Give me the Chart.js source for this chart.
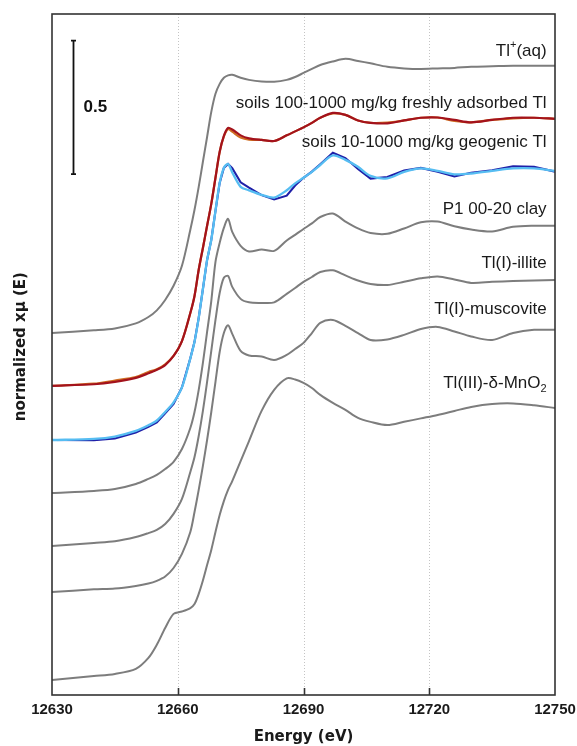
<!DOCTYPE html>
<html><head><meta charset="utf-8">
<script src="https://cdn.jsdelivr.net/npm/chart.js@4/dist/chart.umd.min.js"></script>
<style>html,body{margin:0;padding:0;background:#fff;overflow:hidden}canvas{display:block}</style>
</head><body>
<canvas id="c" width="577" height="746"></canvas>
<script>
// Energy grid (eV)
const energies = [12630,12640,12645,12650,12653,12655,12657,12659,12661,12663,12664,12665,12666,12667,12668,12669,12670,12671,12672,12673,12675,12677,12680,12683,12686,12688,12690,12692,12694,12697,12700,12703,12706,12710,12714,12718,12722,12726,12730,12735,12740,12745,12750];

// Stacked normalized spectra (values include vertical offset)
const tlAq = [1.357,1.367,1.374,1.393,1.417,1.442,1.481,1.534,1.609,1.744,1.819,1.905,1.999,2.092,2.186,2.254,2.291,2.314,2.323,2.325,2.314,2.306,2.300,2.299,2.306,2.317,2.332,2.347,2.362,2.375,2.385,2.377,2.368,2.355,2.349,2.347,2.349,2.351,2.355,2.357,2.359,2.359,2.359];
const soilsFreshOrange = [1.159,1.167,1.179,1.192,1.211,1.221,1.240,1.271,1.327,1.432,1.496,1.594,1.676,1.759,1.841,1.939,2.036,2.094,2.122,2.112,2.090,2.082,2.081,2.077,2.098,2.113,2.128,2.145,2.164,2.180,2.175,2.154,2.145,2.146,2.154,2.164,2.165,2.152,2.147,2.156,2.162,2.164,2.160];
const soilsFreshRed = [1.159,1.165,1.174,1.189,1.206,1.219,1.237,1.271,1.327,1.432,1.496,1.594,1.676,1.759,1.841,1.939,2.036,2.096,2.126,2.120,2.098,2.087,2.081,2.077,2.098,2.113,2.128,2.145,2.164,2.182,2.175,2.154,2.145,2.143,2.154,2.164,2.165,2.156,2.147,2.156,2.164,2.164,2.160];
const soilsGeoDark = [0.956,0.955,0.962,0.984,1.005,1.022,1.056,1.091,1.153,1.262,1.324,1.414,1.522,1.631,1.706,1.815,1.920,1.976,1.991,1.975,1.922,1.902,1.874,1.858,1.872,1.910,1.939,1.962,1.990,2.033,2.013,1.972,1.936,1.942,1.966,1.976,1.962,1.944,1.958,1.967,1.982,1.980,1.962];
const soilsGeoLight = [0.956,0.960,0.969,0.990,1.011,1.029,1.061,1.097,1.153,1.262,1.324,1.414,1.522,1.631,1.706,1.815,1.920,1.976,1.991,1.959,1.905,1.892,1.875,1.865,1.892,1.918,1.939,1.961,1.987,2.023,2.006,1.980,1.946,1.937,1.961,1.974,1.965,1.952,1.955,1.965,1.974,1.974,1.965];
const p1Clay = [0.757,0.765,0.772,0.791,0.810,0.825,0.847,0.874,0.922,1.001,1.061,1.144,1.245,1.361,1.477,1.624,1.695,1.751,1.785,1.736,1.684,1.663,1.670,1.665,1.704,1.725,1.747,1.768,1.792,1.805,1.775,1.749,1.732,1.729,1.749,1.772,1.775,1.757,1.745,1.738,1.755,1.759,1.759];
const tlIllite = [0.559,0.570,0.576,0.592,0.607,0.619,0.641,0.679,0.735,0.836,0.892,0.971,1.065,1.174,1.290,1.406,1.507,1.564,1.571,1.530,1.485,1.472,1.470,1.472,1.504,1.526,1.549,1.567,1.586,1.592,1.573,1.554,1.541,1.537,1.549,1.562,1.569,1.558,1.545,1.549,1.552,1.554,1.556];
const tlMuscovite = [0.386,0.396,0.399,0.409,0.418,0.428,0.444,0.476,0.529,0.611,0.686,0.769,0.859,0.956,1.061,1.174,1.286,1.357,1.386,1.354,1.290,1.273,1.269,1.256,1.275,1.297,1.320,1.357,1.395,1.406,1.384,1.357,1.331,1.333,1.350,1.372,1.380,1.363,1.344,1.331,1.357,1.369,1.369];
const tlMnO2 = [0.056,0.071,0.079,0.098,0.139,0.188,0.251,0.304,0.313,0.326,0.341,0.379,0.429,0.487,0.544,0.611,0.675,0.727,0.769,0.802,0.877,0.952,1.065,1.144,1.187,1.183,1.170,1.151,1.125,1.095,1.069,1.039,1.024,1.012,1.024,1.037,1.050,1.065,1.080,1.091,1.093,1.086,1.076];

// Axis ticks
const xTicks = [12630,12660,12690,12720,12750];

// Curve labels (parts: plain / superscript / subscript) and their vertical anchor (axis units)
const curveLabels = [
  [{t:'Tl'},{t:'+',sup:true},{t:'(aq)'}],
  [{t:'soils 100-1000 mg/kg freshly adsorbed Tl'}],
  [{t:'soils 10-1000 mg/kg geogenic Tl'}],
  [{t:'P1 00-20 clay'}],
  [{t:'Tl(I)-illite'}],
  [{t:'Tl(I)-muscovite'}],
  [{t:'Tl(III)-δ-MnO'},{t:'2',sub:true}]
];
const curveLabelY = [2.413, 2.220, 2.073, 1.819, 1.620, 1.447, 1.170];
const curveLabelX = 12748;

// Scale bar (0.5 normalized units)
const scaleBar = {energy:12635, from:1.953, length:0.5, label:'0.5'};

const GRAY = '#7d7d7d';
const pts = arr => energies.map((e,i)=>({x:e, y:arr[i]}));

const overlay = {
  id:'overlay',
  beforeDatasetsDraw(chart){
    const {ctx, chartArea:a, scales:{x}} = chart;
    ctx.save();
    ctx.strokeStyle = '#c4c4c4'; ctx.lineWidth = 1; ctx.setLineDash([1,2]);
    xTicks.slice(1,-1).forEach(v=>{
      const px = Math.round(x.getPixelForValue(v))+0.5;
      ctx.beginPath(); ctx.moveTo(px,a.top); ctx.lineTo(px,a.bottom); ctx.stroke();
    });
    ctx.restore();
  },
  afterDatasetsDraw(chart){
    const {ctx, chartArea:a, scales:{x,y}} = chart;
    ctx.save();
    // frame
    ctx.strokeStyle = '#333'; ctx.lineWidth = 1.6; ctx.setLineDash([]);
    ctx.strokeRect(a.left, a.top, a.right-a.left, a.bottom-a.top);
    // inward tick marks
    xTicks.slice(1,-1).forEach(v=>{
      const px = Math.round(x.getPixelForValue(v))+0.5;
      ctx.beginPath(); ctx.moveTo(px,a.bottom); ctx.lineTo(px,a.bottom-7); ctx.stroke();
    });
    // scale bar
    const bx = Math.round(x.getPixelForValue(scaleBar.energy))+0.5;
    const y0 = y.getPixelForValue(scaleBar.from), y1 = y.getPixelForValue(scaleBar.from+scaleBar.length);
    ctx.strokeStyle = '#111'; ctx.lineWidth = 1.8;
    ctx.beginPath(); ctx.moveTo(bx,y0); ctx.lineTo(bx,y1);
    ctx.moveTo(bx-2.5,y0); ctx.lineTo(bx+2.5,y0);
    ctx.moveTo(bx-2.5,y1); ctx.lineTo(bx+2.5,y1); ctx.stroke();
    ctx.fillStyle = '#111'; ctx.font = 'bold 17px "Liberation Sans", Arial, sans-serif';
    ctx.textAlign = 'left'; ctx.textBaseline = 'middle';
    ctx.fillText(scaleBar.label, bx+10, (y0+y1)/2);
    // curve labels
    const xr = x.getPixelForValue(curveLabelX);
    ctx.fillStyle = '#1a1a1a';
    curveLabels.forEach((parts,i)=>{
      const ym = y.getPixelForValue(curveLabelY[i]);
      const fonts = parts.map(p=> (p.sup||p.sub) ? '11px "Liberation Sans", Arial, sans-serif' : '17px "Liberation Sans", Arial, sans-serif');
      let w = 0; const ws = parts.map((p,k)=>{ctx.font=fonts[k]; const m=ctx.measureText(p.t).width; w+=m; return m;});
      let cx = xr - w;
      parts.forEach((p,k)=>{
        ctx.font = fonts[k];
        const dy = p.sup ? -6 : (p.sub ? 6 : 0);
        ctx.fillText(p.t, cx, ym+dy);
        cx += ws[k];
      });
    });
    ctx.restore();
  }
};

const ds = (arr, color, width, straight) => ({data:pts(arr), borderColor:color, borderWidth:width, pointRadius:0, fill:false,
  cubicInterpolationMode:'default', tension: straight ? 0 : 0.3});

// Chart.js paints the first dataset on top, so top-most lines come first
new Chart(document.getElementById('c'), {
  type:'line',
  data:{datasets:[
    ds(tlAq, GRAY, 2),
    ds(soilsFreshRed, '#a3121c', 2.2),
    ds(soilsFreshOrange, '#cf6d22', 2.2),
    ds(soilsGeoLight, '#56bdf2', 2.3),
    ds(soilsGeoDark, '#1f1fa8', 2.1, true),
    ds(p1Clay, GRAY, 2),
    ds(tlIllite, GRAY, 2),
    ds(tlMuscovite, GRAY, 2),
    ds(tlMnO2, GRAY, 2)
  ]},
  options:{
    responsive:false, animation:false, devicePixelRatio:1,
    layout:{padding:{top:14,right:22,bottom:0,left:0}},
    plugins:{legend:{display:false}, tooltip:{enabled:false}},
    scales:{
      x:{type:'linear', min:12630, max:12750,
        ticks:{stepSize:30, color:'#1a1a1a', padding:0, maxRotation:0, autoSkip:false,
          font:{family:'"Liberation Sans", Arial, sans-serif', size:15, weight:'bold', lineHeight:2},
          callback:v=>String(v)},
        grid:{display:false, drawTicks:false}, border:{display:false},
        title:{display:true, text:'Energy (eV)', color:'#1a1a1a',
          font:{family:'"DejaVu Sans", Verdana, sans-serif', size:15, weight:'bold'}, padding:{top:3,bottom:0}}},
      y:{type:'linear', min:0, max:2.553,
        ticks:{display:false}, grid:{display:false, drawTicks:false}, border:{display:false},
        title:{display:true, text:'\u00a0\u00a0\u00a0normalized xμ (E)', color:'#1a1a1a',
          font:{family:'"DejaVu Sans", Verdana, sans-serif', size:15, weight:'bold'}, padding:{top:12,bottom:22}}}
    }
  },
  plugins:[overlay]
});
</script>
</body></html>
